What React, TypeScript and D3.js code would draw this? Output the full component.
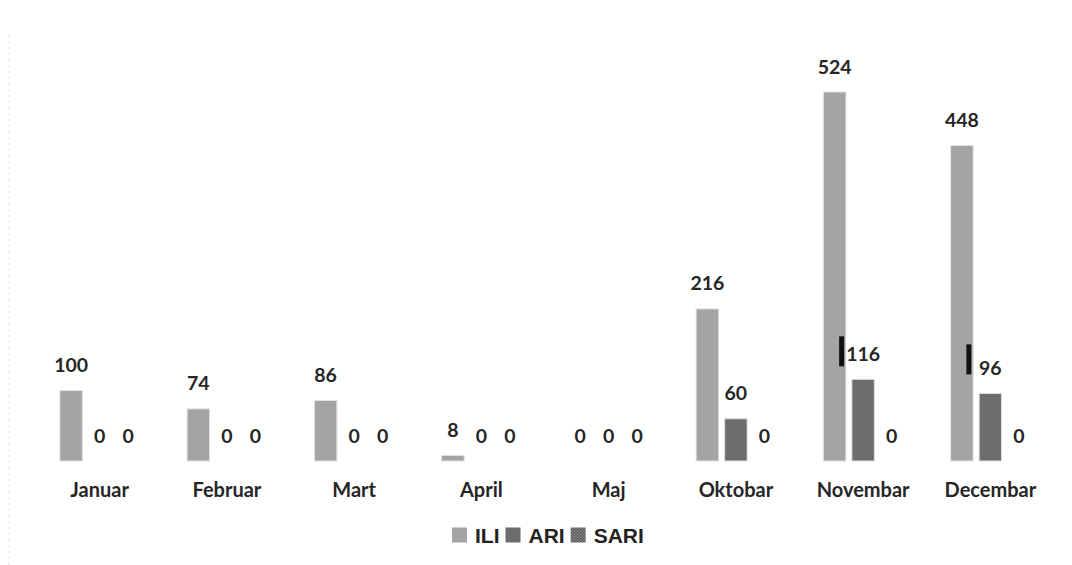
import React from "react";
import * as d3 from "d3";

const months = ["Januar", "Februar", "Mart", "April", "Maj", "Oktobar", "Novembar", "Decembar"];
const seriesNames = ["ILI", "ARI", "SARI"];
const iliValues = [100, 74, 86, 8, 0, 216, 524, 448];
const ariValues = [0, 0, 0, 0, 0, 60, 116, 96];
const sariValues = [0, 0, 0, 0, 0, 0, 0, 0];
const markedLabels = [{ month: "Novembar", series: "ARI", dy: -2 }, { month: "Decembar", series: "ARI", dy: -8 }];

const colors: Record<string, string> = { ILI: "#a4a4a4", ARI: "#6d6d6d", SARI: "#5a5a5a" };

const W = 1072;
const H = 565;
const LABEL_FONT = "Lato, 'Open Sans', sans-serif";
const LEGEND_FONT_SIZE = 21;

function measure(text: string, font: string): number {
  if (typeof document === "undefined") return text.length * 12;
  const c = document.createElement("canvas").getContext("2d");
  if (!c) return text.length * 12;
  c.font = font;
  return c.measureText(text).width;
}

export default function App() {
  const valuesBy: Record<string, number[]> = { ILI: iliValues, ARI: ariValues, SARI: sariValues };
  const x0 = d3.scaleBand<string>().domain(months).range([36, 1054]).paddingInner(0).paddingOuter(0);
  const x1 = d3.scaleBand<string>().domain(seriesNames).range([0, x0.bandwidth()]).paddingInner(0.21).paddingOuter(0.8375);
  const y = d3.scaleLinear().domain([0, 524]).range([461, 92]);

  const rows = months.map((m, i) => ({ month: m, vals: seriesNames.map((s) => ({ s, v: valuesBy[s][i] })) }));

  const legendFont = `bold ${LEGEND_FONT_SIZE}px 'Liberation Sans'`;
  const legendX = 452;
  const legendY = 535;
  const sq = 15;
  const gapText = 8;
  const gapItem = 6;
  let acc = 0;
  const legendOffsets = seriesNames.map((s) => {
    const off = acc;
    acc += sq + gapText + measure(s, legendFont) + gapItem;
    return off;
  });

  return (
    <svg width={W} height={H} style={{ position: "absolute", left: 0, top: 0, background: "#fff" }}>
      <defs>
        <pattern id="sariPat" width="3" height="3" patternUnits="userSpaceOnUse">
          <rect width="3" height="3" fill="#9a9a9a" />
          <rect width="1.5" height="1.5" fill="#3c3c3c" />
          <rect x="1.5" y="1.5" width="1.5" height="1.5" fill="#4a4a4a" />
        </pattern>
      </defs>
      <line x1={9} x2={9} y1={35} y2={565} stroke="#d8d8d8" strokeWidth={1} strokeDasharray="2,4" />
      {rows.map((r) => (
        <g key={r.month} transform={`translate(${x0(r.month)},0)`}>
          {r.vals.map(({ s, v }) => {
            const bx = x1(s)!;
            const bw = x1.bandwidth();
            const top = y(v);
            return (
              <g key={s}>
                {v > 0 && (
                  <rect x={bx} y={top} width={bw} height={y(0) - top} fill={colors[s]} stroke="#e2e2e2" strokeWidth={1} />
                )}
                <text
                  x={bx + bw / 2}
                  y={top - 26}
                  textAnchor="middle"
                  dominantBaseline="central"
                  fontFamily={LABEL_FONT}
                  fontWeight={700}
                  fontSize={19.5}
                  fill="#262626"
                >
                  {v}
                </text>
                {markedLabels
                  .filter((mk) => mk.month === r.month && mk.series === s)
                  .map((mk) => (
                    <rect key="mk" x={bx + bw / 2 - 24} y={top - 26 + mk.dy - 15} width={5} height={30} fill="#111" />
                  ))}
              </g>
            );
          })}
          <text
            x={x0.bandwidth() / 2}
            y={489}
            textAnchor="middle"
            dominantBaseline="central"
            fontFamily={LABEL_FONT}
            fontWeight={700}
            fontSize={20}
            fill="#262626"
          >
            {r.month}
          </text>
        </g>
      ))}
      <g transform={`translate(${legendX},${legendY})`}>
        {seriesNames.map((s, i) => (
          <g key={s} transform={`translate(${legendOffsets[i]},0)`}>
            <rect x={0} y={-7.5} width={sq} height={sq} fill={s === "SARI" ? "url(#sariPat)" : colors[s]} />
            <text x={sq + gapText} y={0} dominantBaseline="central" fontFamily="'Liberation Sans', Arial, sans-serif" fontWeight={700} fontSize={LEGEND_FONT_SIZE} fill="#222">
              {s}
            </text>
          </g>
        ))}
      </g>
    </svg>
  );
}
